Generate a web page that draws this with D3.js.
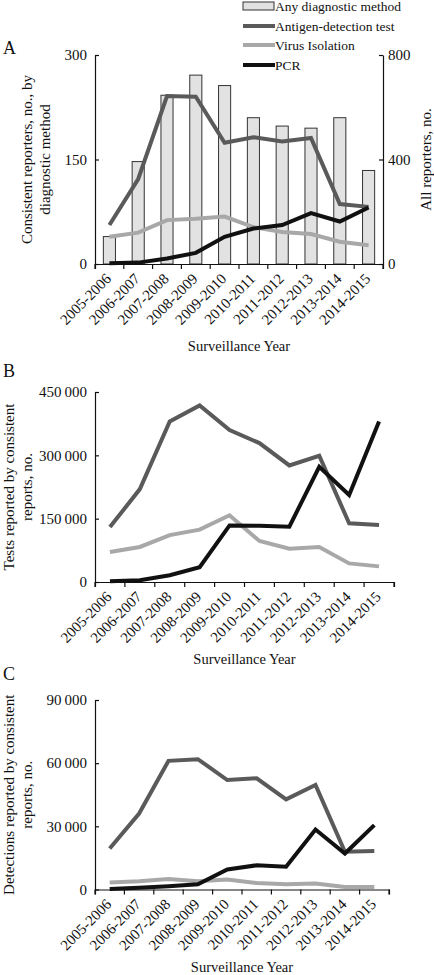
<!DOCTYPE html>
<html>
<head>
<meta charset="utf-8">
<script src="https://cdn.jsdelivr.net/npm/d3@7"></script>
<style>
  html, body { margin: 0; padding: 0; background: #fff; }
  svg { display: block; }
  text { font-family: "Liberation Serif", "Times New Roman", serif; fill: #111; }
</style>
</head>
<body>
<svg id="chart" width="434" height="975"></svg>
<script>
// ---- data ----
const years = ["2005-2006","2006-2007","2007-2008","2008-2009","2009-2010","2010-2011","2011-2012","2012-2013","2013-2014","2014-2015"];

// Panel A: consistent reporters by method (left axis) and all reporters (right axis, bars)
const reportersAny     = [105, 392, 646, 723, 683, 560, 528, 520, 560, 358];
const reportersAntigen = [56, 122, 241, 240, 174, 182, 176, 181, 86, 82];
const reportersVirus   = [39, 45, 63, 65, 68, 53, 46, 43, 32, 27];
const reportersPCR     = [1, 2, 8, 16, 39, 51, 56, 73, 61, 81];

// Panel B: tests reported
const testsAntigen = [130000, 220000, 380000, 418000, 360000, 329000, 276000, 299000, 139000, 135000];
const testsVirus   = [71000, 83000, 111000, 124000, 158000, 97000, 79000, 83000, 44000, 37000];
const testsPCR     = [1500, 4000, 16000, 35000, 134000, 133000, 131000, 273000, 206000, 380000];

// Panel C: detections reported
const detAntigen = [19500, 36100, 61100, 61900, 52000, 52800, 42800, 49600, 17900, 18300];
const detVirus   = [3300, 3900, 5000, 3900, 4700, 3100, 2500, 2800, 1200, 1200];
const detPCR     = [200, 800, 1600, 2500, 9500, 11500, 10800, 28500, 17100, 30600];

const ticksALeft  = [0, 150, 300];
const ticksARight = [0, 400, 800];
const ticksB = [0, 150000, 300000, 450000];
const ticksC = [0, 30000, 60000, 90000];

const legendLabels = ["Any diagnostic method", "Antigen-detection test", "Virus Isolation", "PCR"];
const xTitle = "Surveillance Year";

// ---- styles ----
const colAntigen = "#5a5a5a", colVirus = "#a8a8a8", colPCR = "#111111";
const lineW = 4;

const loc = d3.formatLocale({decimal: ".", thousands: "\u2009", grouping: [3], currency: ["", ""]});
const fmt = loc.format(",d");

const svg = d3.select("#chart");

function styleAxis(g) {
  g.attr("font-family", null).attr("font-size", null);
  g.select(".domain").attr("stroke", "#111").attr("stroke-width", 1.2);
  g.selectAll(".tick line").attr("stroke", "#111").attr("stroke-width", 1.2);
  g.selectAll("text").attr("font-size", 15).attr("fill", "#111");
}

function panel(cfg) {
  const x = d3.scaleBand().domain(years).range([cfg.x0, cfg.x1]).paddingInner(0).paddingOuter(0);
  const y = d3.scaleLinear().domain([0, cfg.ymax]).range([cfg.yb, cfg.yt]);
  const cx = d => x(d) + x.bandwidth() / 2;

  if (cfg.bars) {
    const yR = d3.scaleLinear().domain([0, cfg.bars.max]).range([cfg.yb, cfg.yt]);
    const bw = x.bandwidth() * 0.42;
    svg.append("g").selectAll("rect").data(cfg.bars.values).join("rect")
      .attr("x", (d, i) => cx(years[i]) - bw / 2)
      .attr("y", d => yR(d))
      .attr("width", bw)
      .attr("height", d => cfg.yb - yR(d))
      .attr("fill", "#e2e2e2").attr("stroke", "#333").attr("stroke-width", 1);
    const gr = svg.append("g").attr("transform", `translate(${cfg.x1},0)`)
      .call(d3.axisRight(yR).tickValues(cfg.bars.ticks).tickSize(-4).tickSizeOuter(0).tickPadding(5).tickFormat(fmt));
    styleAxis(gr);
    svg.append("text")
      .attr("transform", `translate(431,${(cfg.yb + cfg.yt) / 2}) rotate(-90)`)
      .attr("text-anchor", "middle").attr("font-size", 15)
      .text(cfg.bars.title);
  }

  const line = d3.line().x((d, i) => cx(years[i])).y(d => y(d));
  cfg.series.forEach(s => {
    svg.append("path").datum(s.values)
      .attr("d", line).attr("fill", "none")
      .attr("stroke", s.color).attr("stroke-width", lineW)
      .attr("stroke-linejoin", "miter");
  });

  const gy = svg.append("g").attr("transform", `translate(${cfg.x0},0)`)
    .call(d3.axisLeft(y).tickValues(cfg.ticks).tickSize(-4).tickSizeOuter(0).tickPadding(8).tickFormat(fmt));
  styleAxis(gy);

  const gx = svg.append("g").attr("transform", `translate(0,${cfg.yb})`)
    .call(d3.axisBottom(x).tickSize(5).tickSizeOuter(5));
  styleAxis(gx);
  gx.selectAll(".tick line").attr("x1", -x.bandwidth() / 2).attr("x2", -x.bandwidth() / 2);
  gx.append("line").attr("x1", cfg.x1).attr("x2", cfg.x1).attr("y1", 0).attr("y2", 5)
    .attr("stroke", "#111").attr("stroke-width", 1.2);
  gx.selectAll(".tick text")
    .attr("y", 0).attr("dy", "0.35em")
    .attr("text-anchor", "end")
    .attr("transform", "translate(-1,12) rotate(-45)");

  const yt = svg.append("text")
    .attr("transform", `translate(${cfg.titleX},${(cfg.yb + cfg.yt) / 2}) rotate(-90)`)
    .attr("text-anchor", "middle").attr("font-size", 15);
  yt.append("tspan").attr("x", 0).attr("y", 0).text(cfg.yTitle[0]);
  yt.append("tspan").attr("x", 0).attr("y", 18).text(cfg.yTitle[1]);

  svg.append("text").attr("x", (cfg.x0 + cfg.x1) / 2).attr("y", cfg.xTitleY)
    .attr("text-anchor", "middle").attr("font-size", 14.5).text(xTitle);

  svg.append("text").attr("x", 3).attr("y", cfg.letterY).attr("font-size", 18).text(cfg.letter);
}

panel({
  letter: "A", letterY: 54,
  x0: 95, x1: 383, yt: 55, yb: 264, ymax: 300, ticks: ticksALeft,
  bars: {values: reportersAny, max: 800, ticks: ticksARight, title: "All reporters, no."},
  series: [
    {values: reportersAntigen, color: colAntigen},
    {values: reportersVirus, color: colVirus},
    {values: reportersPCR, color: colPCR}
  ],
  yTitle: ["Consistent reporters, no., by", "diagnostic method"], titleX: 32,
  xTitleY: 351
});

panel({
  letter: "B", letterY: 377,
  x0: 95, x1: 394, yt: 392, yb: 582, ymax: 450000, ticks: ticksB,
  series: [
    {values: testsAntigen, color: colAntigen},
    {values: testsVirus, color: colVirus},
    {values: testsPCR, color: colPCR}
  ],
  yTitle: ["Tests reported by consistent", "reports, no."], titleX: 14,
  xTitleY: 664
});

panel({
  letter: "C", letterY: 680,
  x0: 95, x1: 389, yt: 700, yb: 889.5, ymax: 90000, ticks: ticksC,
  series: [
    {values: detAntigen, color: colAntigen},
    {values: detVirus, color: colVirus},
    {values: detPCR, color: colPCR}
  ],
  yTitle: ["Detections reported by consistent", "reports, no."], titleX: 14,
  xTitleY: 972
});

// ---- legend ----
const lg = svg.append("g").attr("transform", "translate(243,0)");
const rowsY = [6, 26, 45, 65];
lg.append("rect").attr("x", 0).attr("y", rowsY[0] - 4).attr("width", 31).attr("height", 8)
  .attr("fill", "#e2e2e2").attr("stroke", "#333").attr("stroke-width", 1);
[colAntigen, colVirus, colPCR].forEach((c, i) => {
  lg.append("line").attr("x1", 0).attr("x2", 32).attr("y1", rowsY[i + 1]).attr("y2", rowsY[i + 1])
    .attr("stroke", c).attr("stroke-width", lineW);
});
legendLabels.forEach((t, i) => {
  lg.append("text").attr("x", 32).attr("y", rowsY[i]).attr("dy", "0.35em")
    .attr("font-size", 13.5).text(t);
});
</script>
</body>
</html>
